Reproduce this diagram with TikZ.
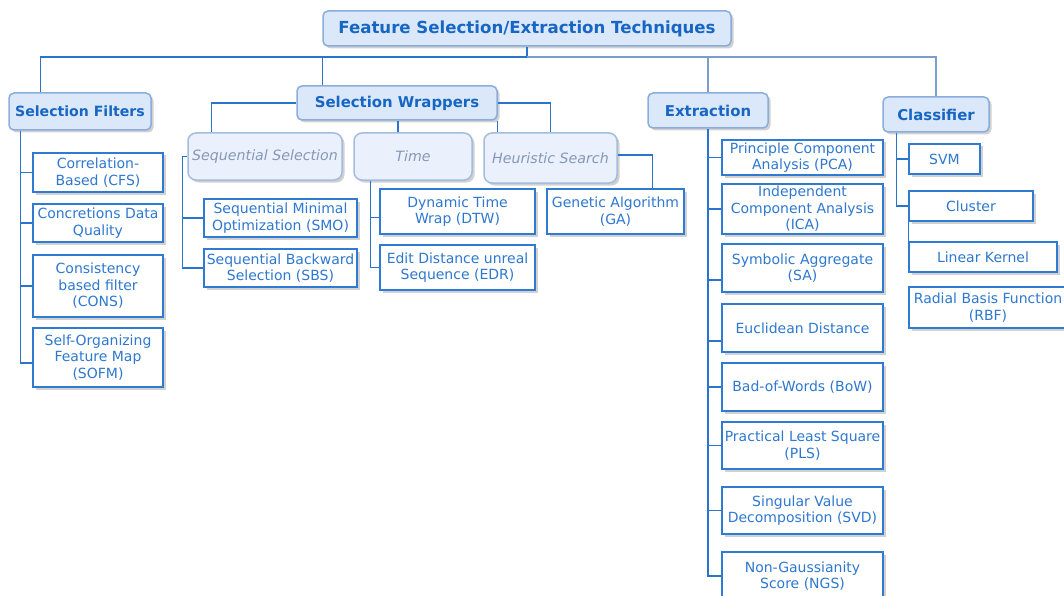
\documentclass[tikz,border=0pt]{standalone}
\usepackage{fontspec}
\setmainfont{DejaVu Sans}
\usetikzlibrary{shadows}
\definecolor{leafborder}{HTML}{2F7BD3}
\definecolor{leaftext}{HTML}{2E78CF}
\definecolor{topfill}{HTML}{DAE8FA}
\definecolor{topborder}{HTML}{8BADDC}
\definecolor{toptext}{HTML}{1766C4}
\definecolor{midfill}{HTML}{EAF1FC}
\definecolor{midborder}{HTML}{A5BCDD}
\definecolor{midtext}{HTML}{8598B8}
\definecolor{linkblue}{HTML}{2A74CE}
\definecolor{graylink}{HTML}{7C9DCC}
\begin{document}
\begin{tikzpicture}[x=1pt,y=-1pt,
  base/.style={inner sep=1pt, align=center, font=\fontsize{14}{16.6}\selectfont},
  shad/.style={drop shadow={shadow xshift=2.5pt,shadow yshift=-2.5pt,fill=black!30,opacity=0.6}},
  leaf/.style={base, shad, draw=leafborder, line width=1.4pt, fill=white, text=leaftext},
  topbox/.style={base, shad, draw=topborder, line width=1.5pt, fill=topfill, text=toptext, rounded corners=5pt, font=\fontsize{14.9}{17}\selectfont\bfseries},
  midbox/.style={base, shad, draw=midborder, line width=1.5pt, fill=midfill, text=midtext, rounded corners=8pt, font=\fontsize{14.2}{16.6}\selectfont\itshape},
  link/.style={draw=linkblue, line width=1.3pt},
  glink/.style={draw=graylink, line width=1.3pt}]
\useasboundingbox (0,0) rectangle (1064,596);
\clip (0,0) rectangle (1064,596);

% top level
\node[topbox, minimum width=408pt, minimum height=35pt, font=\fontsize{16.6}{19}\selectfont\bfseries] (root) at (527,28.5) {Feature Selection/Extraction Techniques};
\node[topbox, minimum width=142pt, minimum height=37pt, font=\fontsize{14.1}{17}\selectfont\bfseries] (sf) at (80,111.5) {Selection Filters};
\node[topbox, minimum width=200pt, minimum height=34pt] (sw) at (397,103) {Selection Wrappers};
\node[topbox, minimum width=120pt, minimum height=35pt] (ext) at (708,110.5) {Extraction};
\node[topbox, minimum width=106pt, minimum height=35pt] (cls) at (936,114.5) {Classifier};

% second level
\node[midbox, minimum width=154pt, minimum height=47pt] (seqsel) at (265,156.5) {Sequential Selection};
\node[midbox, minimum width=118pt, minimum height=47pt] (time) at (413,156.5) {Time};
\node[midbox, minimum width=133pt, minimum height=50pt] (heur) at (550.5,158) {Heuristic Search};

% selection filters leaves
\node[leaf, minimum width=130pt, minimum height=39pt] (cfs) at (98,172.5) {Correlation-\\Based (CFS)};
\node[leaf, minimum width=130pt, minimum height=38pt] (cdq) at (98,223) {Concretions Data\\Quality};
\node[leaf, minimum width=130pt, minimum height=62pt] (cons) at (98,286) {Consistency\\based filter\\(CONS)};
\node[leaf, minimum width=130pt, minimum height=59pt] (sofm) at (98,357.5) {Self-Organizing\\Feature Map\\(SOFM)};

% wrappers leaves
\node[leaf, minimum width=153pt, minimum height=38pt] (smo) at (280.5,218) {Sequential Minimal\\Optimization (SMO)};
\node[leaf, minimum width=153pt, minimum height=38pt] (sbs) at (280.5,268) {Sequential Backward\\Selection (SBS)};
\node[leaf, minimum width=155pt, minimum height=45pt] (dtw) at (457.5,211.5) {Dynamic Time\\Wrap (DTW)};
\node[leaf, minimum width=155pt, minimum height=45pt] (edr) at (457.5,267.5) {Edit Distance unreal\\Sequence (EDR)};
\node[leaf, minimum width=137pt, minimum height=45pt] (ga) at (615.5,211.5) {Genetic Algorithm\\(GA)};

% extraction leaves
\node[leaf, minimum width=161pt, minimum height=35pt] (pca) at (802.5,157.5) {Principle Component\\Analysis (PCA)};
\node[leaf, minimum width=161pt, minimum height=50pt] (ica) at (802.5,209) {Independent\\Component Analysis\\(ICA)};
\node[leaf, minimum width=161pt, minimum height=48pt] (sa) at (802.5,268) {Symbolic Aggregate\\(SA)};
\node[leaf, minimum width=161pt, minimum height=48pt] (euc) at (802.5,328) {Euclidean Distance};
\node[leaf, minimum width=161pt, minimum height=48pt] (bow) at (802.5,387) {Bad-of-Words (BoW)};
\node[leaf, minimum width=161pt, minimum height=47pt] (pls) at (802.5,445.5) {Practical Least Square\\(PLS)};
\node[leaf, minimum width=161pt, minimum height=47pt] (svd) at (802.5,510.5) {Singular Value\\Decomposition (SVD)};
\node[leaf, minimum width=161pt, minimum height=48pt] (ngs) at (802.5,576) {Non-Gaussianity\\Score (NGS)};

% classifier leaves
\node[leaf, minimum width=71pt, minimum height=30pt] (svm) at (944.5,159) {SVM};
\node[leaf, minimum width=124pt, minimum height=30pt] (clu) at (971,206) {Cluster};
\node[leaf, minimum width=148pt, minimum height=30pt] (lin) at (983,257) {Linear Kernel};
\node[leaf, minimum width=158pt, minimum height=41pt] (rbf) at (988,307.5) {Radial Basis Function\\(RBF)};

% bus
\coordinate (bus) at (527,57);
\draw[link] ([xshift=32pt]sf.north west) |- (root.south |- bus) -- (root.south);
\draw[glink] (root.south |- bus) -| (cls.north);
\draw[glink] (ext.north) -- (ext.north |- bus);
\draw[link] ([xshift=26pt]sw.north west) -- ([xshift=26pt]sw.north west |- bus);

% selection filters
\coordinate (sfspine) at ([xshift=12pt]sf.south west);
\draw[link] (sfspine) |- ([yshift=-5.5pt]sofm.west);
\draw[link] (cfs.west) -- (cfs.west -| sfspine);
\draw[link] (cdq.west) -- (cdq.west -| sfspine);
\draw[link] (cons.west) -- (cons.west -| sfspine);

% selection wrappers
\draw[link] (sw.west) -| ([xshift=24pt]seqsel.north west);
\draw[link] ([xshift=1pt]sw.south) -- ([xshift=1pt]sw.south |- time.north);
\draw[link] (sw.east) -| (heur.north);
\draw[link] (sw.south east) -- (sw.south east |- heur.north);

\coordinate (ssspine) at ([xshift=-5pt]seqsel.west);
\draw[link] (seqsel.west) -- (ssspine) |- (sbs.west);
\draw[link] (smo.west) -- (smo.west -| ssspine);

\coordinate (tspine) at ([xshift=17pt]time.south west);
\draw[link] (tspine) |- (edr.west);
\draw[link] ([yshift=-6pt]dtw.west) -- ([yshift=-6pt]dtw.west -| tspine);

\draw[link] ([yshift=3pt]heur.east) -| ([xshift=106pt]ga.north west);

% extraction
\draw[link] (ext.south) |- (ngs.west);
\foreach \n in {pca,ica,bow,pls,svd}{\draw[link] (\n.west) -- (\n.west -| ext.south);}
\draw[link] ([yshift=-12pt]sa.west) -- ([yshift=-12pt]sa.west -| ext.south);
\draw[link] ([yshift=-13pt]euc.west) -- ([yshift=-13pt]euc.west -| ext.south);

% classifier
\coordinate (cspine) at ([xshift=14pt]cls.south west);
\draw[link] (cspine) |- (clu.west);
\draw[link] (svm.west) -- (svm.west -| cspine);
\draw[link] (clu.south west) -- (lin.north west);
\end{tikzpicture}
\end{document}
